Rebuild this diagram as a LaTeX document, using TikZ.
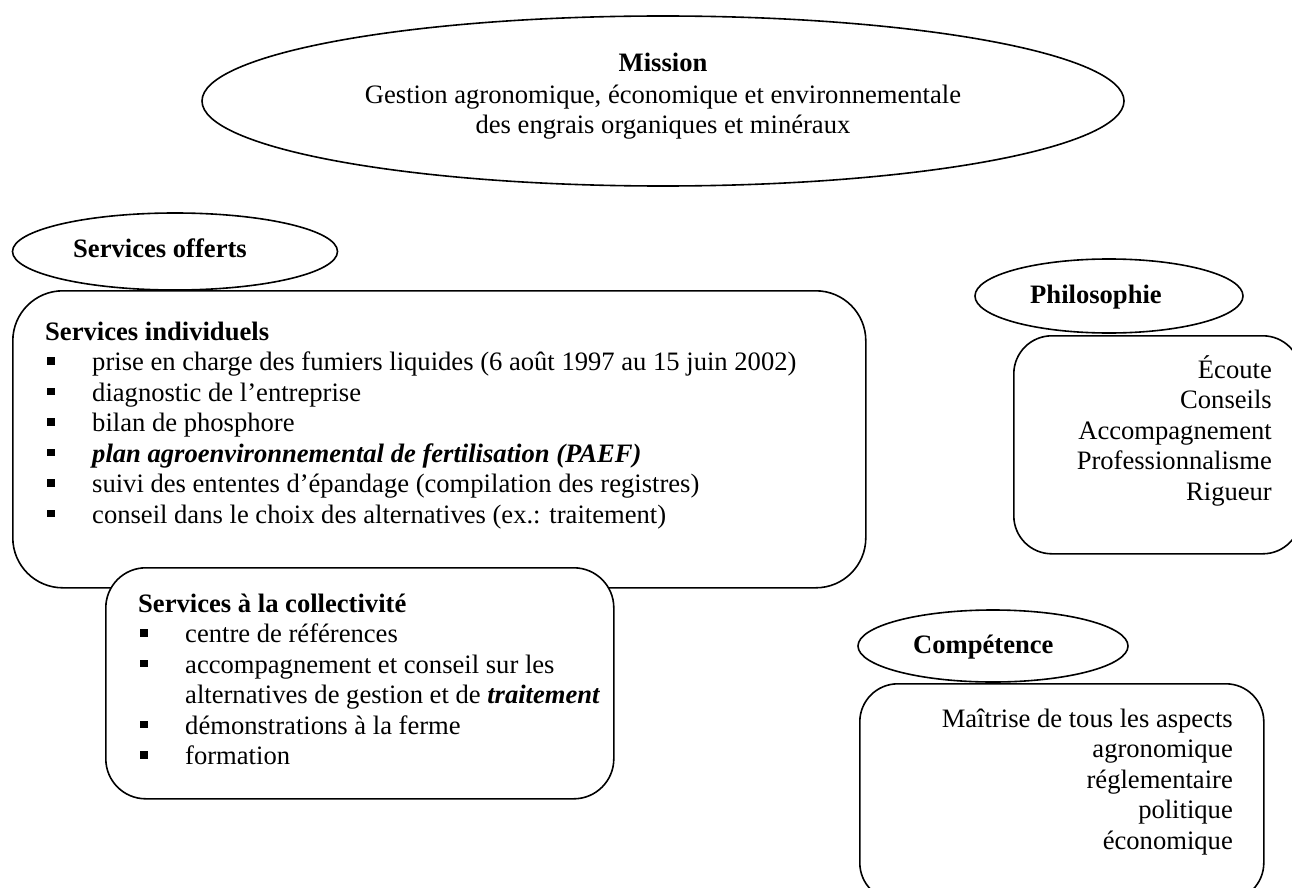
\documentclass[tikz,border=0pt]{standalone}
\usepackage{fontspec}
\setmainfont{Liberation Serif}
\usetikzlibrary{shapes.geometric}
\newcommand{\bulsq}{\rule[6pt]{7.5pt}{7.5pt}\hspace{37.5pt}}
\tikzset{
  shp/.style={draw, line width=1.6pt, fill=white},
  oval/.style={shp, ellipse, inner sep=0pt},
  rbox/.style={shp, rectangle, anchor=north west, inner sep=0pt},
  txt/.style={font=\fontsize{26.6}{30.5}\selectfont, inner sep=0pt},
  ttl/.style={font=\fontsize{26.6}{30.5}\selectfont\bfseries, inner sep=0pt},
}
\begin{document}
\begin{tikzpicture}[x=1pt, y=-1pt]
\useasboundingbox (0,0) rectangle (1292,888);
\clip (0,0) rectangle (1292,888);

% Mission
\node[oval, minimum width=922pt, minimum height=170pt] (mission) at (663,101) {};
\node[ttl, anchor=base] (mt) at (663,72) {Mission};
\node[txt, anchor=base] (m1) at (663,103) {Gestion agronomique, économique et environnementale};
\node[txt, anchor=base] (m2) at (663,133.5) {des engrais organiques et minéraux};

% Services individuels
\node[rbox, rounded corners=50pt, minimum width=853pt, minimum height=297pt] (indivbox) at (12,290) {};
\node[ttl, anchor=base west] (indh) at (45,340) {Services individuels};
\foreach \t [count=\i] in {%
  {prise en charge des fumiers liquides (6 août 1997 au 15 juin 2002)},
  {diagnostic de l’entreprise},
  {bilan de phosphore},
  {\textbf{\textit{plan agroenvironnemental de fertilisation (PAEF)}}},
  {suivi des ententes d’épandage (compilation des registres)},
  {conseil dans le choix des alternatives (ex.: traitement)}}
  \node[txt, anchor=base west] (ind\i) at (47,340+30.5*\i) {\bulsq\t};

% Services offerts
\node[oval, minimum width=325pt, minimum height=77pt] (offerts) at (175,251.5) {};
\node[ttl, anchor=base west] (offt) at (73,257) {Services offerts};

% Services a la collectivite
\node[rbox, rounded corners=40pt, minimum width=508pt, minimum height=231pt] (colbox) at (105,567) {};
\node[ttl, anchor=base west] (colh) at (138,612) {Services à la collectivité};
\node[txt, anchor=base west] (col1) at (140,642.5) {\bulsq centre de références};
\node[txt, anchor=base west] (col2) at (140,673) {\bulsq accompagnement et conseil sur les};
\node[txt, anchor=base west] (col3) at (185,703.5) {alternatives de gestion et de \textbf{\textit{traitement}}};
\node[txt, anchor=base west] (col4) at (140,734) {\bulsq démonstrations à la ferme};
\node[txt, anchor=base west] (col5) at (140,764.5) {\bulsq formation};

% Philosophie
\node[rbox, rounded corners=38pt, minimum width=287pt, minimum height=218pt] (phibox) at (1013,335) {};
\node[oval, minimum width=268pt, minimum height=74pt] (philo) at (1109,296) {};
\node[ttl, anchor=base west] (phit) at (1030,303) {Philosophie};
\foreach \t [count=\i from 0] in {Écoute, Conseils, Accompagnement, Professionnalisme, Rigueur}
  \node[txt, anchor=base east] (phi\i) at (1272,378+30.5*\i) {\t};

% Competence
\node[rbox, rounded corners=38pt, minimum width=404pt, minimum height=217pt] (compbox) at (859,683) {};
\node[oval, minimum width=270pt, minimum height=72pt] (compet) at (993,646) {};
\node[ttl, anchor=base west] (compt) at (913,653) {Compétence};
\foreach \t [count=\i from 0] in {Maîtrise de tous les aspects, agronomique, réglementaire, politique, économique}
  \node[txt, anchor=base east] (comp\i) at (1233,727+30.5*\i) {\t};
\end{tikzpicture}
\end{document}
